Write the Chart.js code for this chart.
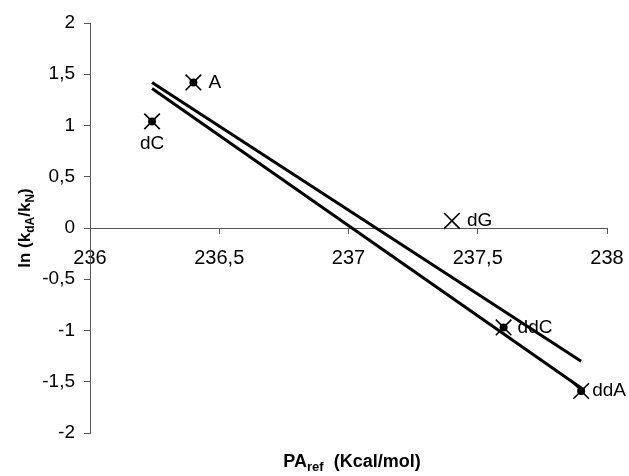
<!DOCTYPE html>
<html>
<head>
<meta charset="utf-8">
<script src="https://cdn.jsdelivr.net/npm/chart.js@4/dist/chart.umd.min.js"></script>
<style>
  html, body { margin: 0; padding: 0; background: #fff; }
  #wrap { width: 629px; height: 476px; }
</style>
</head>
<body>
<div id="wrap"><canvas id="chart"></canvas></div>
<script>
// Measured compounds
const names = ["A", "dC", "dG", "ddC", "ddA"];
const paRef = [236.4, 236.24, 237.4, 237.6, 237.9];
const lnRatio = [1.42, 1.04, 0.07, -0.97, -1.59];
const hasDot = [true, true, false, true, true];

// Two fitted lines (end points)
const fitX = [236.24, 237.9];
const fitUpper = [1.42, -1.3];
const fitLower = [1.36, -1.56];

const xTicks = [236, 236.5, 237, 237.5, 238];
const yTicks = [-2, -1.5, -1, -0.5, 0, 0.5, 1, 1.5, 2];

const FONT = "'Liberation Sans', Arial, sans-serif";
const comma = (v) => String(v).replace(".", ",");

const crosses = paRef.map((x, i) => ({ x, y: lnRatio[i] }));
const dots = paRef.map((x, i) => ({ x, y: lnRatio[i] })).filter((p, i) => hasDot[i]);
const toLine = (ys) => fitX.map((x, i) => ({ x, y: ys[i] }));

// label offsets relative to each point (px)
const labelOffset = {
  A: [15, 0, "left"],
  dC: [0, 22, "center"],
  dG: [15, 0, "left"],
  ddC: [14, 0, "left"],
  ddA: [11, 0, "left"],
};

const pointLabels = {
  id: "pointLabels",
  afterDatasetsDraw(chart) {
    const { ctx, scales } = chart;
    ctx.save();
    ctx.font = "19px " + FONT;
    ctx.fillStyle = "#000";
    ctx.textBaseline = "middle";
    names.forEach((n, i) => {
      const [dx, dy, align] = labelOffset[n];
      ctx.textAlign = align;
      ctx.fillText(n, scales.x.getPixelForValue(paRef[i]) + dx, scales.y.getPixelForValue(lnRatio[i]) + dy);
    });
    ctx.restore();
  },
};

// axis titles with subscripts
function drawSub(ctx, parts, x, y, size) {
  const subSize = Math.round(size * 0.7);
  let total = 0;
  parts.forEach(([t, sub]) => {
    ctx.font = "bold " + (sub ? subSize : size) + "px " + FONT;
    total += ctx.measureText(t).width;
  });
  let cx = x - total / 2;
  parts.forEach(([t, sub]) => {
    ctx.font = "bold " + (sub ? subSize : size) + "px " + FONT;
    ctx.fillText(t, cx, sub ? y + 4 : y);
    cx += ctx.measureText(t).width;
  });
}

const axisTitles = {
  id: "axisTitles",
  afterDraw(chart) {
    const { ctx } = chart;
    ctx.save();
    ctx.fillStyle = "#000";
    ctx.textAlign = "left";
    ctx.textBaseline = "alphabetic";
    drawSub(ctx, [["PA", false], ["ref", true], ["  (Kcal/mol)", false]], 352, 467, 18);
    ctx.translate(30, chart.scales.y.getPixelForValue(0));
    ctx.rotate(-Math.PI / 2);
    drawSub(ctx, [["ln (k", false], ["dA", true], ["/k", false], ["N", true], [")", false]], 0, 0, 17);
    ctx.restore();
  },
};

new Chart(document.getElementById("chart"), {
  type: "scatter",
  data: {
    datasets: [
      {
        type: "line",
        data: toLine(fitUpper),
        borderColor: "#000",
        borderWidth: 3,
        pointRadius: 0,
        fill: false,
      },
      {
        type: "line",
        data: toLine(fitLower),
        borderColor: "#000",
        borderWidth: 3,
        pointRadius: 0,
        fill: false,
      },
      {
        data: dots,
        pointStyle: "circle",
        pointRadius: 4,
        backgroundColor: "#000",
        borderColor: "#000",
        borderWidth: 0,
      },
      {
        data: crosses,
        pointStyle: "crossRot",
        pointRadius: 11,
        borderColor: "#000",
        borderWidth: 1.6,
      },
    ],
  },
  options: {
    responsive: true,
    maintainAspectRatio: false,
    animation: false,
    layout: { padding: { top: 23, right: 22, bottom: 43, left: 0 } },
    plugins: {
      legend: { display: false },
      tooltip: { enabled: false },
    },
    scales: {
      x: {
        type: "linear",
        position: { y: 0 },
        min: 236,
        max: 238,
        afterBuildTicks: (scale) => { scale.ticks = xTicks.map((v) => ({ value: v })); },
        afterFit: (scale) => { scale.paddingLeft = 0; scale.paddingRight = 0; },
        ticks: {
          callback: comma,
          color: "#000",
          font: { family: FONT, size: 20 },
          padding: 13,
          maxRotation: 0,
        },
        grid: { drawOnChartArea: false, drawTicks: true, tickLength: 5, color: "#555" },
        border: { color: "#555", width: 1 },
      },
      y: {
        type: "linear",
        min: -2,
        max: 2,
        afterBuildTicks: (scale) => { scale.ticks = yTicks.map((v) => ({ value: v })); },
        afterFit: (scale) => { scale.width = 90; },
        ticks: {
          callback: comma,
          color: "#000",
          font: { family: FONT, size: 19 },
          padding: 9,
        },
        grid: { drawOnChartArea: false, drawTicks: true, tickLength: 6, color: "#555" },
        border: { color: "#555", width: 1 },
      },
    },
  },
  plugins: [pointLabels, axisTitles],
});
</script>
</body>
</html>
